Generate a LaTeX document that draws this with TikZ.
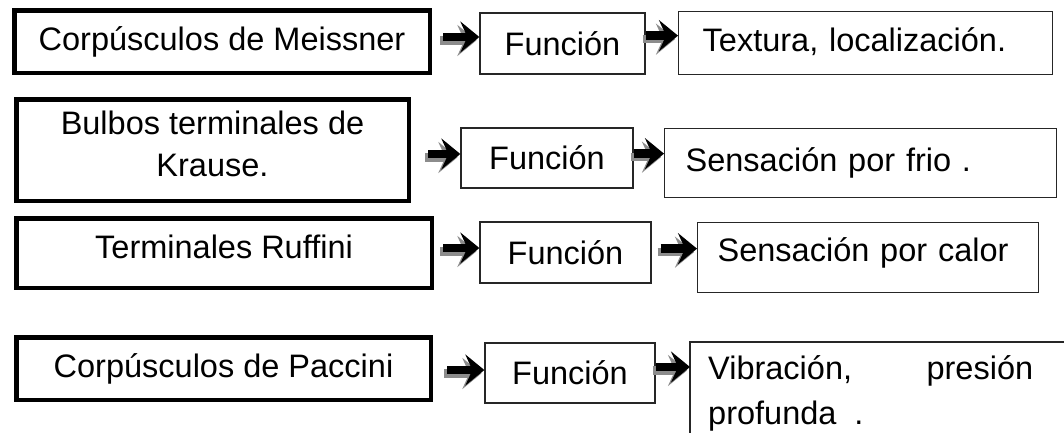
\documentclass[tikz,border=0pt]{standalone}
\usepackage{fontspec}
\setmainfont{Liberation Sans}
\usetikzlibrary{arrows.meta,calc}

\tikzset{
  txt/.style={font=\fontsize{32.5}{42}\selectfont},
  % heavy frame of the receptor names
  namebox/.style={txt, draw=black, line width=4.5pt, inner sep=0pt, align=center},
  % light frames of the middle and right columns
  thinline/.style={draw=black!85, line width=1.3pt},
  thinbox/.style={txt, thinline, inner sep=0pt},
  funcbox/.style={thinbox, align=center},
  resbox/.style={thinbox, anchor=north west, align=left, text height=24pt, text depth=7pt},
  % block arrow with a grey drop shadow
  arrowbody/.style={draw=black, line width=8.5pt, -{Stealth[length=19pt,width=31pt,inset=7pt]}},
  arrowshade/.style={arrowbody, draw=black!45, transform canvas={shift={(-3pt,-3.5pt)}}},
}

% #1 source node, #2 target node, #3 gap after the source, #4 vertical offset from the target's west anchor
\newcommand\flecha[4]{%
  \draw[arrowshade] ($(#1.east |- #2.west)+(#3,#4)$) -- ($(#2.west)+(0,#4)$);
  \draw[arrowbody]  ($(#1.east |- #2.west)+(#3,#4)$) -- ($(#2.west)+(0,#4)$);
}

\begin{document}
\begin{tikzpicture}[x=1pt,y=-1pt]
  \useasboundingbox (0,0) rectangle (1064,432);
  \clip (0,0) rectangle (1064,432);

  % receptor names
  \node[namebox, minimum width=415.5pt, minimum height=62.5pt]  (m)  at (222,41.5)   {Corpúsculos de Meissner};
  \node[namebox, minimum width=392.5pt, minimum height=101.5pt, text depth=12pt] (k)  at (212.5,150)  {Bulbos terminales de\\Krause.};
  \node[namebox, minimum width=415.5pt, minimum height=69.5pt, text depth=12pt]  (ru) at (224,253)    {Terminales Ruffini};
  \node[namebox, minimum width=414.5pt, minimum height=62.5pt]  (p)  at (223.5,368.5){Corpúsculos de Paccini};

  % "Función" boxes
  \node[funcbox, minimum width=165pt, minimum height=61pt] (f1) at (562.5,43.5) {Función};
  \node[funcbox, minimum width=172pt, minimum height=60pt] (f2) at (547,158)    {Función};
  \node[funcbox, minimum width=171pt, minimum height=61pt] (f3) at (565.5,252.5){Función};
  \node[funcbox, minimum width=170pt, minimum height=60pt] (f4) at (570,373)    {Función};

  % functions
  \node[resbox, inner xsep=24pt, text width=326pt, minimum height=63pt] (r1) at (678,11)  {Textura, localización.};
  \node[resbox, inner xsep=21pt, text width=350pt, minimum height=69pt] (r2) at (664,128) {Sensación por frio .};
  \node[resbox, inner xsep=20pt, text width=301pt, minimum height=70pt, text depth=17pt] (r3) at (697,222) {Sensación por calor};
  \node[txt, anchor=north west, inner xsep=18pt, inner ysep=13pt] (r4) at (690,342)
    {\parbox[t]{325pt}{\makebox[325pt][s]{Vibración,\hfill presión}\\[3pt]\mbox{profunda\hspace{18pt}.}}};
  % its frame runs off the right and bottom edges
  \draw[thinline] ($(r4.north west)+(0,120)$) -- (r4.north west) -- ($(r4.north west)+(400,0)$);

  % arrows
  \flecha{m}{f1}{11}{-6.5}
  \flecha{f1}{r1}{0}{-7.5}
  \flecha{k}{f2}{17}{-4}
  \flecha{f2}{r2}{0}{-9.5}
  \flecha{ru}{f3}{9}{-4.5}
  \flecha{f3}{r3}{9}{-9}
  \flecha{p}{f4}{14}{-3}
  \draw[arrowshade] ($(f4.east |- r4.north west)+(0,25)$) -- ($(r4.north west)+(0,25)$);
  \draw[arrowbody]  ($(f4.east |- r4.north west)+(0,25)$) -- ($(r4.north west)+(0,25)$);
\end{tikzpicture}
\end{document}
